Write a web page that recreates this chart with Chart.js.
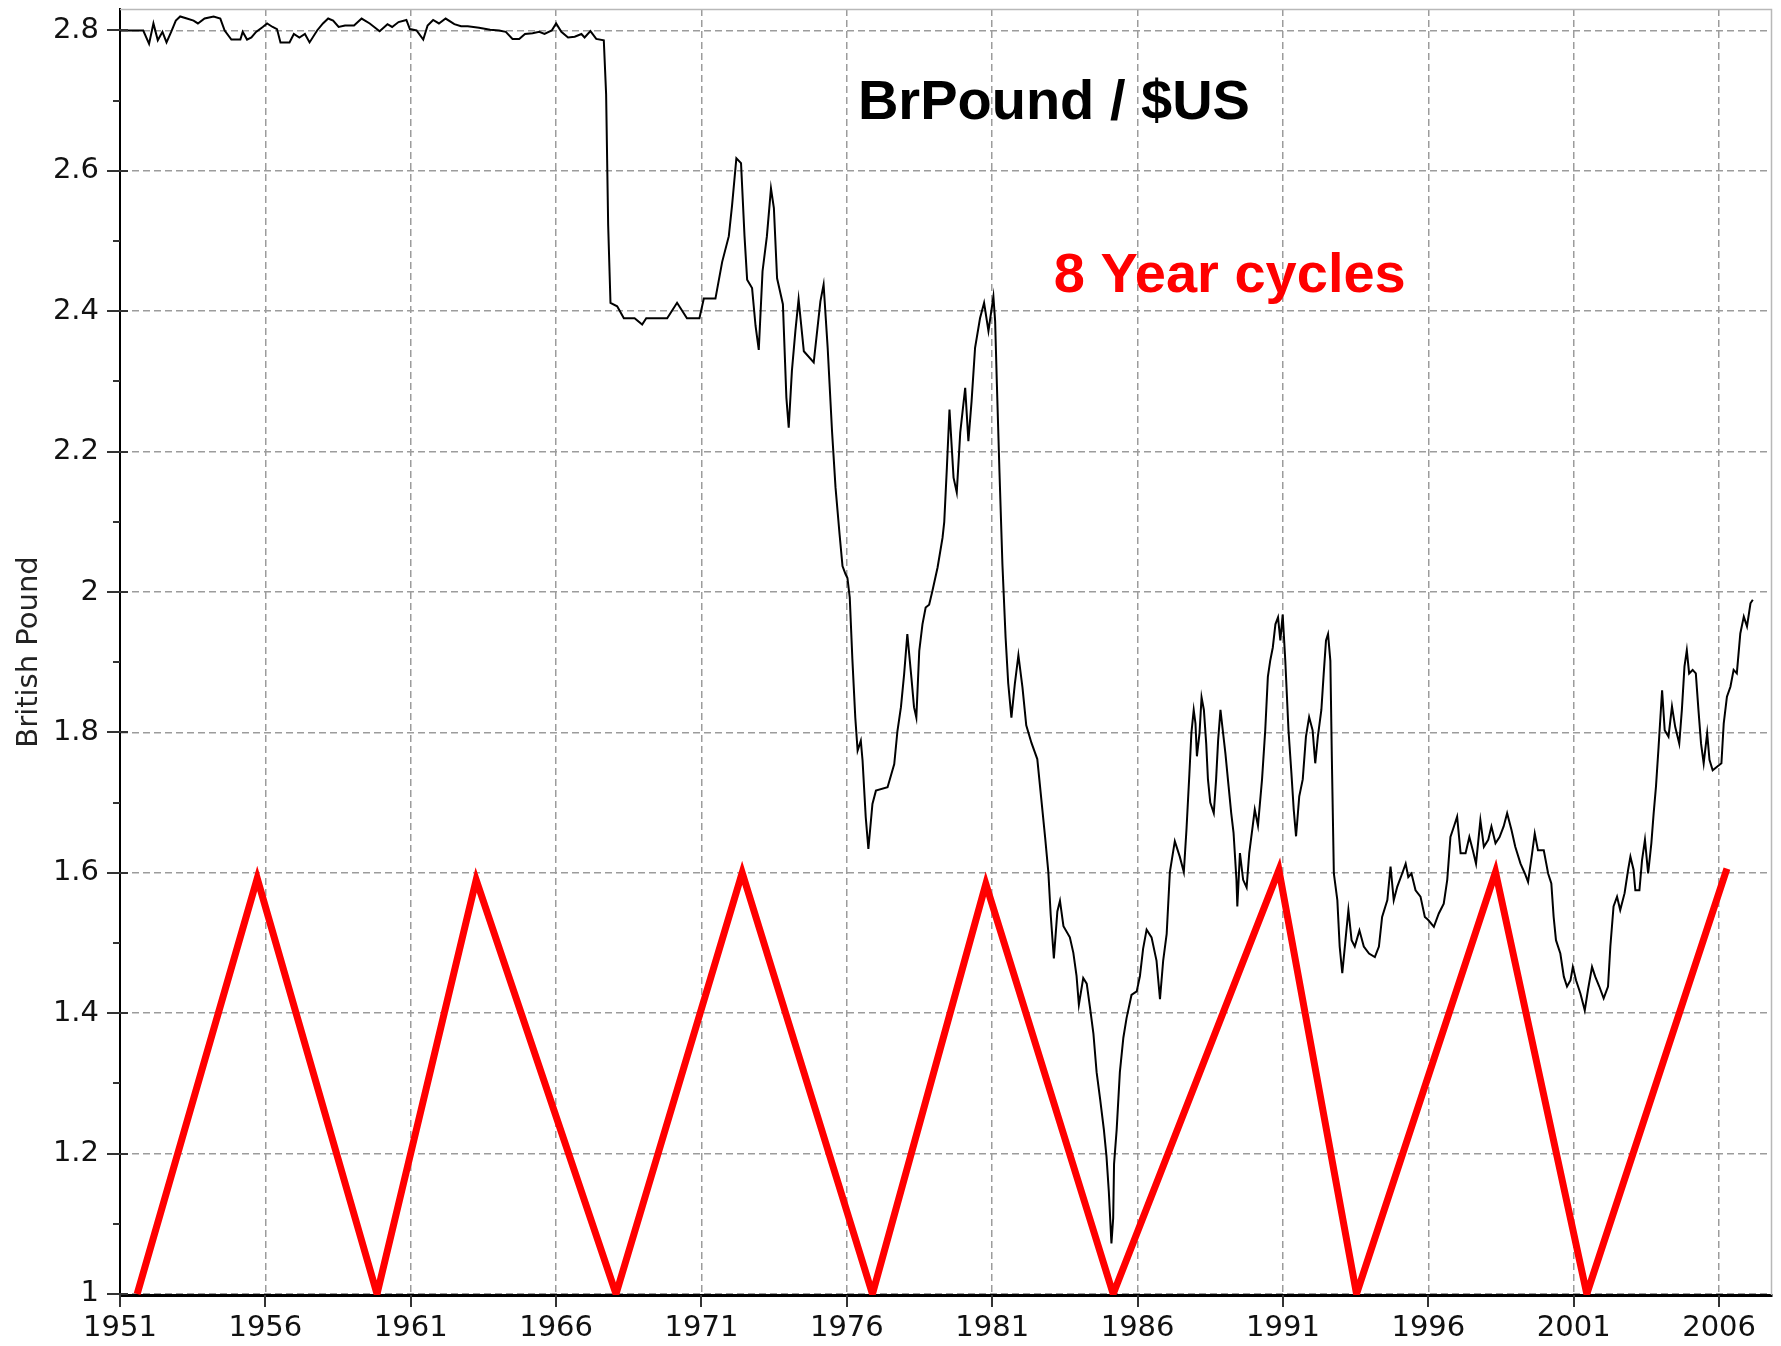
<!DOCTYPE html>
<html>
<head>
  <title>BrPound / $US</title>
  <script src="https://cdn.jsdelivr.net/npm/chart.js"></script>
  <style>
    html, body { margin: 0; padding: 0; background: #fff; }
    canvas { display: block; }
  </style>
</head>
<body>
<canvas id="poundChart" width="1781" height="1346"></canvas>

<script>
  // British pound in US dollars (year as decimal)
  const gbpYears = [
    1951.0, 1951.8, 1952.0, 1952.15, 1952.3, 1952.46, 1952.6, 1952.76, 1952.92, 1953.07,
    1953.3, 1953.53, 1953.68, 1953.91, 1954.22, 1954.45, 1954.6, 1954.83, 1955.14, 1955.22,
    1955.37, 1955.52, 1955.68, 1955.91, 1956.06, 1956.25, 1956.4, 1956.52, 1956.83, 1956.98,
    1957.17, 1957.36, 1957.52, 1957.78, 1957.98, 1958.16, 1958.33, 1958.52, 1958.74, 1959.05,
    1959.31, 1959.59, 1959.93, 1960.2, 1960.36, 1960.58, 1960.85, 1960.97, 1961.2, 1961.43,
    1961.58, 1961.77, 1961.97, 1962.2, 1962.5, 1962.73, 1962.96, 1963.35, 1963.73, 1964.04,
    1964.27, 1964.5, 1964.73, 1964.93, 1965.19, 1965.42, 1965.6, 1965.85, 1966.0, 1966.18,
    1966.41, 1966.64, 1966.87, 1966.98, 1967.18, 1967.38, 1967.64, 1967.72, 1967.79, 1967.87,
    1968.1, 1968.33, 1968.7, 1968.96, 1969.1, 1969.82, 1970.16, 1970.5, 1970.93, 1971.08,
    1971.48, 1971.71, 1971.94, 1972.05, 1972.2, 1972.36, 1972.48, 1972.57, 1972.74, 1972.86,
    1972.97, 1973.1, 1973.25, 1973.39, 1973.49, 1973.6, 1973.8, 1973.92, 1974.0, 1974.11,
    1974.23, 1974.34, 1974.52, 1974.86, 1975.09, 1975.2, 1975.34, 1975.49, 1975.61, 1975.75,
    1975.85, 1975.95, 1976.02, 1976.1, 1976.19, 1976.29, 1976.37, 1976.48, 1976.54, 1976.65,
    1976.74, 1976.88, 1977.0, 1977.4, 1977.63, 1977.74, 1977.86, 1977.97, 1978.08, 1978.22,
    1978.31, 1978.39, 1978.49, 1978.6, 1978.71, 1978.83, 1978.94, 1979.12, 1979.29, 1979.35,
    1979.44, 1979.53, 1979.67, 1979.78, 1979.9, 1980.07, 1980.18, 1980.29, 1980.41, 1980.58,
    1980.72, 1980.87, 1981.04, 1981.1, 1981.16, 1981.25, 1981.35, 1981.46, 1981.55, 1981.66,
    1981.78, 1981.9, 1982.04, 1982.17, 1982.35, 1982.55, 1982.7, 1982.82, 1982.93, 1983.01,
    1983.12, 1983.24, 1983.33, 1983.45, 1983.67, 1983.79, 1983.9, 1983.98, 1984.13, 1984.25,
    1984.36, 1984.48, 1984.59, 1984.71, 1984.84, 1984.93, 1985.01, 1985.1, 1985.16, 1985.19,
    1985.28, 1985.39, 1985.51, 1985.62, 1985.79, 1985.97, 1986.08, 1986.19, 1986.31, 1986.48,
    1986.65, 1986.77, 1986.88, 1987.0, 1987.11, 1987.28, 1987.45, 1987.59, 1987.68, 1987.78,
    1987.85, 1987.93, 1987.99, 1988.04, 1988.13, 1988.2, 1988.28, 1988.36, 1988.42, 1988.5,
    1988.62, 1988.7, 1988.77, 1988.85, 1988.93, 1989.02, 1989.13, 1989.22, 1989.3, 1989.4,
    1989.43, 1989.52, 1989.63, 1989.75, 1989.84, 1989.96, 1990.03, 1990.14, 1990.28, 1990.39,
    1990.48, 1990.56, 1990.65, 1990.74, 1990.83, 1990.91, 1990.99, 1991.08, 1991.19, 1991.29,
    1991.37, 1991.45, 1991.56, 1991.68, 1991.79, 1991.9, 1992.02, 1992.11, 1992.2, 1992.32,
    1992.4, 1992.48, 1992.55, 1992.63, 1992.68, 1992.75, 1992.87, 1992.95, 1993.04, 1993.15,
    1993.25, 1993.36, 1993.47, 1993.63, 1993.78, 1993.96, 1994.16, 1994.3, 1994.41, 1994.59,
    1994.7, 1994.81, 1994.93, 1995.1, 1995.22, 1995.31, 1995.42, 1995.56, 1995.73, 1995.88,
    1995.99, 1996.19, 1996.36, 1996.53, 1996.65, 1996.76, 1996.88, 1996.99, 1997.11, 1997.28,
    1997.41, 1997.53, 1997.64, 1997.79, 1997.91, 1998.06, 1998.17, 1998.31, 1998.45, 1998.59,
    1998.71, 1998.86, 1998.99, 1999.17, 1999.32, 1999.43, 1999.57, 1999.66, 1999.77, 1999.97,
    2000.12, 2000.23, 2000.31, 2000.39, 2000.54, 2000.66, 2000.77, 2000.89, 2000.97, 2001.08,
    2001.23, 2001.38, 2001.49, 2001.63, 2001.74, 2001.88, 2002.03, 2002.18, 2002.26, 2002.37,
    2002.49, 2002.6, 2002.75, 2002.87, 2002.95, 2003.06, 2003.12, 2003.26, 2003.35, 2003.45,
    2003.56, 2003.67, 2003.75, 2003.83, 2003.92, 2004.04, 2004.13, 2004.26, 2004.38, 2004.49,
    2004.63, 2004.72, 2004.81, 2004.89, 2004.97, 2005.09, 2005.2, 2005.29, 2005.38, 2005.47,
    2005.59, 2005.67, 2005.78, 2005.93, 2006.08, 2006.16, 2006.27, 2006.39, 2006.5, 2006.61,
    2006.73, 2006.85, 2006.96, 2007.08, 2007.16
  ];
  const gbpRates = [
    2.800, 2.800, 2.781, 2.810, 2.786, 2.798, 2.783, 2.798, 2.814, 2.820,
    2.817, 2.814, 2.810, 2.817, 2.820, 2.817, 2.800, 2.787, 2.787, 2.798,
    2.787, 2.790, 2.798, 2.805, 2.810, 2.805, 2.802, 2.783, 2.783, 2.795,
    2.790, 2.795, 2.783, 2.800, 2.810, 2.817, 2.814, 2.805, 2.807, 2.807,
    2.817, 2.810, 2.799, 2.809, 2.805, 2.812, 2.815, 2.802, 2.800, 2.787,
    2.807, 2.815, 2.810, 2.817, 2.809, 2.806, 2.806, 2.804, 2.801, 2.800,
    2.798, 2.788, 2.788, 2.795, 2.796, 2.798, 2.795, 2.800, 2.810, 2.798,
    2.790, 2.791, 2.795, 2.790, 2.799, 2.788, 2.786, 2.709, 2.523, 2.412,
    2.407, 2.390, 2.390, 2.381, 2.390, 2.390, 2.412, 2.390, 2.390, 2.418,
    2.418, 2.470, 2.507, 2.550, 2.618, 2.611, 2.507, 2.445, 2.433, 2.379,
    2.345, 2.457, 2.507, 2.575, 2.547, 2.447, 2.410, 2.277, 2.234, 2.315,
    2.372, 2.417, 2.343, 2.327, 2.414, 2.438, 2.348, 2.229, 2.149, 2.082,
    2.037, 2.026, 2.020, 1.992, 1.904, 1.821, 1.774, 1.788, 1.760, 1.679,
    1.634, 1.698, 1.717, 1.722, 1.755, 1.802, 1.836, 1.883, 1.940, 1.878,
    1.836, 1.821, 1.916, 1.954, 1.978, 1.982, 2.001, 2.035, 2.077, 2.100,
    2.177, 2.260, 2.163, 2.142, 2.227, 2.291, 2.215, 2.272, 2.348, 2.390,
    2.412, 2.372, 2.421, 2.386, 2.296, 2.170, 2.040, 1.935, 1.870, 1.821,
    1.870, 1.910, 1.864, 1.810, 1.785, 1.762, 1.700, 1.650, 1.601, 1.541,
    1.478, 1.545, 1.560, 1.524, 1.508, 1.486, 1.453, 1.412, 1.450, 1.442,
    1.409, 1.371, 1.316, 1.278, 1.234, 1.196, 1.146, 1.072, 1.108, 1.185,
    1.234, 1.316, 1.365, 1.393, 1.426, 1.431, 1.453, 1.492, 1.519, 1.508,
    1.475, 1.420, 1.475, 1.513, 1.601, 1.645, 1.623, 1.601, 1.661, 1.740,
    1.799, 1.832, 1.813, 1.766, 1.799, 1.850, 1.832, 1.784, 1.733, 1.700,
    1.685, 1.733, 1.789, 1.832, 1.803, 1.770, 1.723, 1.685, 1.657, 1.590,
    1.552, 1.628, 1.590, 1.579, 1.628, 1.667, 1.690, 1.667, 1.733, 1.803,
    1.879, 1.902, 1.921, 1.954, 1.964, 1.931, 1.968, 1.902, 1.803, 1.742,
    1.690, 1.652, 1.709, 1.733, 1.794, 1.822, 1.803, 1.756, 1.794, 1.832,
    1.883, 1.931, 1.940, 1.902, 1.766, 1.599, 1.561, 1.495, 1.457, 1.504,
    1.547, 1.504, 1.495, 1.518, 1.495, 1.485, 1.480, 1.495, 1.537, 1.561,
    1.609, 1.561, 1.580, 1.599, 1.613, 1.594, 1.599, 1.575, 1.566, 1.537,
    1.533, 1.523, 1.542, 1.556, 1.590, 1.651, 1.666, 1.680, 1.628, 1.628,
    1.651, 1.632, 1.613, 1.675, 1.637, 1.647, 1.666, 1.642, 1.651, 1.666,
    1.685, 1.661, 1.637, 1.613, 1.599, 1.587, 1.628, 1.656, 1.632, 1.632,
    1.599, 1.585, 1.537, 1.504, 1.485, 1.452, 1.438, 1.447, 1.466, 1.447,
    1.428, 1.404, 1.433, 1.466, 1.452, 1.438, 1.421, 1.438, 1.495, 1.552,
    1.566, 1.547, 1.571, 1.604, 1.623, 1.604, 1.575, 1.575, 1.618, 1.647,
    1.599, 1.642, 1.685, 1.723, 1.780, 1.860, 1.803, 1.794, 1.837, 1.808,
    1.784, 1.832, 1.894, 1.917, 1.884, 1.889, 1.884, 1.832, 1.784, 1.756,
    1.799, 1.761, 1.746, 1.751, 1.756, 1.813, 1.851, 1.865, 1.889, 1.884,
    1.941, 1.965, 1.951, 1.984, 1.989
  ];

  // the red 8 year zigzag: turning points
  const cycleYears = [1951.59, 1955.72, 1959.84, 1963.25, 1968.06, 1972.4, 1976.88,
                      1980.78, 1985.16, 1990.86, 1993.53, 1998.31, 2001.45, 2006.27];
  const cycleValues = [1.0, 1.592, 1.0, 1.59, 1.0, 1.60, 1.0,
                       1.584, 1.0, 1.604, 1.0, 1.601, 1.0, 1.606];

  const xTicks = [1951, 1956, 1961, 1966, 1971, 1976, 1981, 1986, 1991, 1996, 2001, 2006];
  const yTicks = [1, 1.2, 1.4, 1.6, 1.8, 2, 2.2, 2.4, 2.6, 2.8];
  const yMinorTicks = yTicks.slice(1).map((v, i) => (v + yTicks[i]) / 2);

  // text notes inside the plot, anchored in data units (left / baseline)
  const notes = [
    { text: 'BrPound / $US', x: 1976.38, y: 2.674, color: '#000000' },
    { text: '8 Year cycles', x: 1983.12, y: 2.4275, color: '#ff0000' }
  ];

  if (gbpYears.length !== gbpRates.length) console.warn('length mismatch', gbpYears.length, gbpRates.length);

  const tickFont = { family: 'DejaVu Sans', size: 29 };
  const gridDash = [7, 4];

  // axis ticks (crossing the y axis), light frame and the two notes
  const decorations = {
    id: 'decorations',
    afterDraw(chart) {
      const { ctx, chartArea: a, scales: { x, y } } = chart;
      ctx.save();
      ctx.strokeStyle = '#b8b8b8';
      ctx.lineWidth = 1.5;
      ctx.beginPath();
      ctx.moveTo(a.left, a.top + 0.5);
      ctx.lineTo(a.right - 0.5, a.top + 0.5);
      ctx.lineTo(a.right - 0.5, a.bottom);
      ctx.stroke();

      ctx.strokeStyle = '#333';
      ctx.lineWidth = 2;
      ctx.beginPath();
      yTicks.forEach(v => {
        const py = Math.round(y.getPixelForValue(v));
        ctx.moveTo(a.left - 13, py);
        ctx.lineTo(a.left + 8, py);
      });
      yMinorTicks.forEach(v => {
        const py = Math.round(y.getPixelForValue(v));
        ctx.moveTo(a.left - 7, py);
        ctx.lineTo(a.left, py);
      });
      xTicks.forEach(v => {
        const px = Math.round(x.getPixelForValue(v));
        ctx.moveTo(px, a.bottom);
        ctx.lineTo(px, a.bottom + 12);
      });
      ctx.stroke();

      ctx.font = 'bold 56px "Liberation Sans", Arial, sans-serif';
      ctx.textAlign = 'left';
      ctx.textBaseline = 'alphabetic';
      notes.forEach(n => {
        ctx.fillStyle = n.color;
        ctx.fillText(n.text, x.getPixelForValue(n.x), y.getPixelForValue(n.y));
      });
      ctx.restore();
    }
  };

  const ctx = document.getElementById('poundChart').getContext('2d');
  const poundChart = new Chart(ctx, {
    type: 'line',
    data: {
      datasets: [{
        label: 'British Pound',
        data: gbpYears.map((yr, i) => ({ x: yr, y: gbpRates[i] })),
        borderColor: '#000000',
        borderWidth: 2,
        pointRadius: 0,
        tension: 0
      }, {
        label: '8 Year cycles',
        data: cycleYears.map((yr, i) => ({ x: yr, y: cycleValues[i] })),
        borderColor: '#ff0000',
        borderWidth: 7,
        pointRadius: 0,
        tension: 0
      }]
    },
    options: {
      responsive: false,
      animation: false,
      devicePixelRatio: 1,
      layout: { padding: { top: 9, right: 9, left: 0, bottom: 0 } },
      plugins: {
        legend: { display: false },
        tooltip: { enabled: false }
      },
      scales: {
        x: {
          type: 'linear',
          min: 1951,
          max: 2007.82,
          afterBuildTicks: s => { s.ticks = xTicks.map(v => ({ value: v })); },
          afterFit: s => {
            s.height = 51;
            s.paddingLeft = 0; s.paddingRight = 0;
          },
          ticks: {
            font: tickFont,
            color: '#111',
            padding: 16,
            maxRotation: 0,
            autoSkip: false,
            callback: v => String(v)
          },
          grid: { color: '#9c9c9c', lineWidth: 1.5, drawTicks: false },
          border: { display: true, color: '#000', width: 3, dash: gridDash }
        },
        y: {
          type: 'linear',
          min: 0.9985,
          max: 2.8306,
          afterBuildTicks: s => { s.ticks = yTicks.map(v => ({ value: v })); },
          afterFit: s => {
            s.width = 120;
            s.paddingTop = 0; s.paddingBottom = 0;
          },
          ticks: {
            font: tickFont,
            color: '#111',
            padding: 21,
            autoSkip: false,
            callback: v => String(Math.round(v * 10) / 10)
          },
          grid: { color: '#9c9c9c', lineWidth: 1.5, drawTicks: false },
          border: { display: true, color: '#000', width: 2, dash: gridDash },
          title: {
            display: true,
            text: 'British Pound',
            color: '#222',
            font: { family: 'DejaVu Sans', size: 29 },
            padding: { top: 12, bottom: 0 }
          }
        }
      }
    },
    plugins: [decorations]
  });
</script>

</body>
</html>
